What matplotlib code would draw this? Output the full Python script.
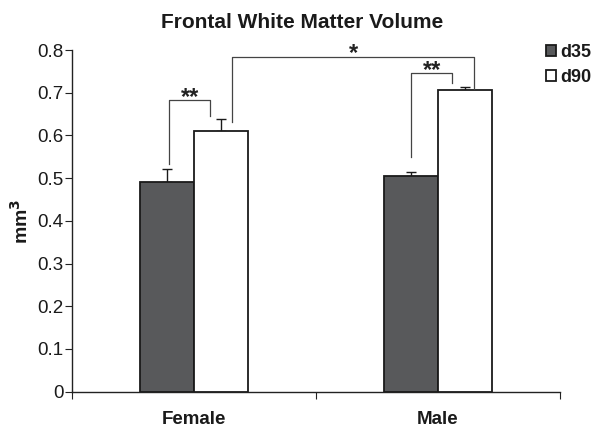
import matplotlib
matplotlib.use("Agg")
import matplotlib.pyplot as plt
import numpy as np

plt.rcParams["font.family"] = ["Liberation Sans", "DejaVu Sans"]

categories = ["Female", "Male"]
series = ["d35", "d90"]
d35_values = [0.492, 0.505]
d90_values = [0.611, 0.706]
d35_err = [0.029, 0.010]
d90_err = [0.027, 0.008]

# significance brackets: (x_left, x_right, y_left_bottom, y_right_bottom, y_top, label)
brackets = [
    (-0.102, 0.066, 0.533, 0.646, 0.682, "**"),
    (0.889, 1.059, 0.550, 0.722, 0.745, "**"),
    (0.157, 1.149, 0.631, 0.708, 0.784, "*"),
]

fig = plt.figure(figsize=(5.94, 4.30), dpi=100)
ax = fig.add_axes([0.1212, 0.0891, 0.8216, 0.7946])

x = np.arange(len(categories))
w = 0.22
ax.bar(x - w/2, d35_values, w, color="#58595b", edgecolor="#1a1a1a", linewidth=1.3,
       label="d35", zorder=3)
ax.bar(x + w/2, d90_values, w, color="white", edgecolor="#1a1a1a", linewidth=1.3,
       label="d90", zorder=3)
ax.errorbar(x - w/2, d35_values, yerr=[np.zeros(2), d35_err], fmt="none",
            ecolor="#1a1a1a", elinewidth=1, capsize=3.5, capthick=1, zorder=2)
ax.errorbar(x + w/2, d90_values, yerr=[np.zeros(2), d90_err], fmt="none",
            ecolor="#1a1a1a", elinewidth=1, capsize=3.5, capthick=1, zorder=2)

for xl, xr, yl, yr, yt, lab in brackets:
    ax.plot([xl, xl, xr, xr], [yl, yt, yt, yr], color="#444444", lw=0.9, zorder=4)
    ax.text((xl + xr) / 2, yt - 0.008, lab, ha="center", va="baseline",
            fontsize=17, fontweight="bold", color="#222222")

ax.set_xlim(-0.5, 1.5)
ax.set_ylim(0, 0.8)
ax.set_yticks(np.arange(0, 0.81, 0.1))
ax.set_yticklabels(["0"] + [f"{v:.1f}" for v in np.arange(0.1, 0.81, 0.1)], fontsize=13.5,
                   color="#1a1a1a")
ax.set_xticks([-0.5, 0.5, 1.5])
ax.set_xticklabels([])
ax.set_xticks(x, minor=True)
ax.set_xticklabels(categories, minor=True, fontsize=13.5, fontweight="bold", color="#1a1a1a")
ax.tick_params(axis="x", which="minor", length=0, pad=14)
ax.tick_params(axis="x", which="major", length=5, color="#222222")
ax.tick_params(axis="y", length=5, color="#222222", pad=1)
for s in ["top", "right"]:
    ax.spines[s].set_visible(False)
for s in ["left", "bottom"]:
    ax.spines[s].set_color("#222222")
    ax.spines[s].set_linewidth(1)

ax.set_ylabel("mm$^\\mathbf{3}$", fontsize=14, fontweight="bold", labelpad=4, color="#1a1a1a")
fig.text(0.508, 0.947, "Frontal White Matter Volume", ha="center", va="center",
         fontsize=15, fontweight="bold", color="#1a1a1a")

fig.legend(loc="upper left", bbox_to_anchor=(0.919, 0.898), frameon=False,
           prop={"weight": "bold", "size": 13}, handlelength=0.55, handleheight=0.55,
           handletextpad=0.25, labelspacing=0.45, borderaxespad=0, borderpad=0,
           labelcolor="#1a1a1a")

fig.savefig("out.png", dpi=100)
